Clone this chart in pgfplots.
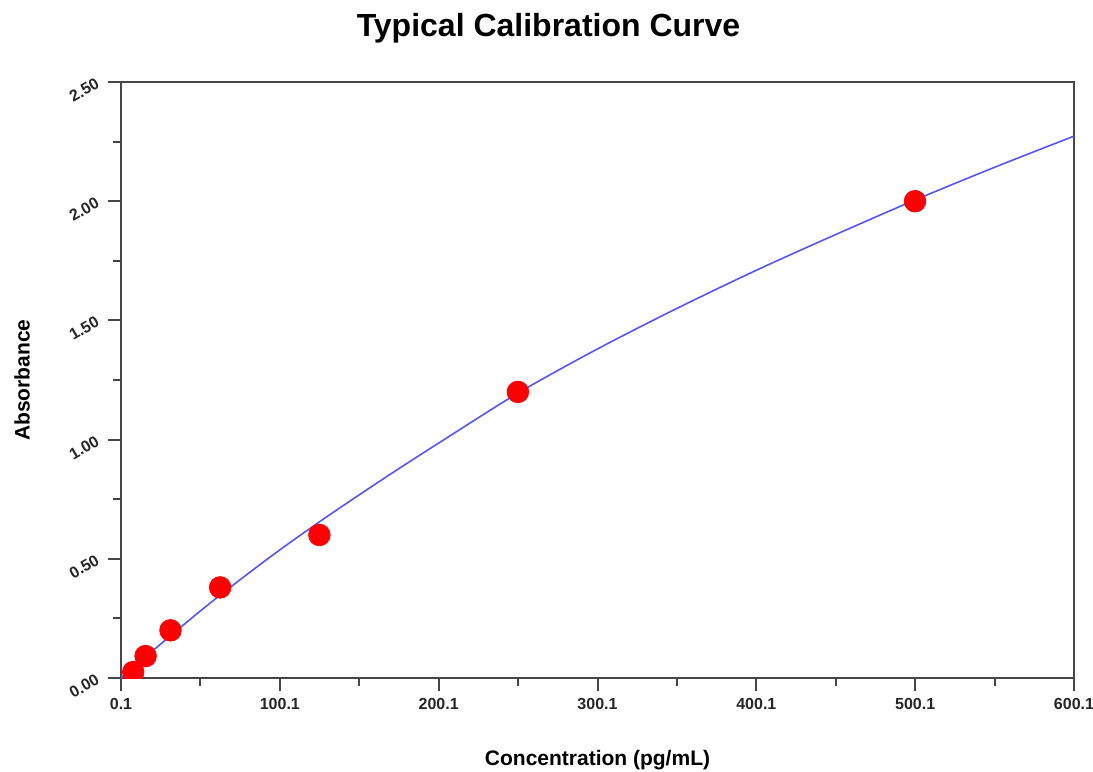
\documentclass[border=0pt]{standalone}
\usepackage{fontspec}
\setmainfont{Liberation Sans}
\usepackage{pgfplots}
\pgfplotsset{compat=1.18}
\usetikzlibrary{calc}

\definecolor{curveblue}{RGB}{85,85,255}
\definecolor{axgray}{RGB}{70,70,70}

\begin{document}
\begin{tikzpicture}
\begin{axis}[
  name=ax,
  scale only axis,
  width=476.5pt, height=298pt,
  xmin=0.1, xmax=600.1,
  ymin=0, ymax=2.5,
  axis line style={axgray, line width=1pt},
  every tick/.style={axgray, line width=1pt},
  tick align=outside,
  xtick pos=left, ytick pos=left,
  major tick length=6.5pt,
  minor tick length=4pt,
  xtick={0.1,100.1,200.1,300.1,400.1,500.1,600.1},
  xticklabels={0.1,100.1,200.1,300.1,400.1,500.1,600.1},
  minor xtick={50.1,150.1,250.1,350.1,450.1,550.1},
  ytick={0,0.5,1,1.5,2,2.5},
  minor ytick={0.25,0.75,1.25,1.75,2.25},
  yticklabel style={/pgf/number format/fixed, /pgf/number format/precision=2,
    /pgf/number format/fixed zerofill, rotate=30, anchor=east,
    yshift=2.5pt, xshift=-1pt},
  /pgf/number format/assume math mode=true,
  ticklabel style={font=\bfseries\fontsize{8}{9}\selectfont, text=black!85},
  scaled ticks=false,
  xlabel={Concentration (pg/mL)},
  ylabel={Absorbance},
  every axis x label/.style={at={(axis description cs:0.5,0)}, yshift=-41pt,
    anchor=center, font=\bfseries\fontsize{10.5}{12}\selectfont},
  every axis y label/.style={at={(axis description cs:0,0.5)}, xshift=-49.5pt,
    rotate=90, anchor=center, font=\bfseries\fontsize{10.5}{12}\selectfont},
  title={Typical Calibration Curve},
  every axis title/.style={at={(axis description cs:0.5,1)}, yshift=27pt,
    xshift=-24.5pt, anchor=center, font=\bfseries\fontsize{16}{19}\selectfont},
  clip marker paths=true,
]
\addplot[curveblue, line width=0.8pt, smooth] coordinates {
(0.1,0.0) (10,0.057) (25,0.142) (50,0.281) (75,0.412) (100,0.537)
(125,0.655) (150,0.768) (175,0.878) (200,0.985) (250,1.195)
(300,1.38) (350,1.55) (400,1.71) (450,1.86) (500,2.005)
(550,2.142) (600.1,2.273)
};
\addplot[only marks, mark=*, mark size=5.4pt, mark options={fill=red, draw=red}] coordinates {
(7.8,0.025) (15.6,0.092) (31.25,0.20) (62.5,0.38) (125,0.60) (250,1.20) (500,2.00)
};
\end{axis}
\pgfresetboundingbox
\path[use as bounding box] ($(ax.south west)+(-60.5pt,-46.5pt)$) rectangle ($(ax.north east)+(9.5pt,41pt)$);
\end{tikzpicture}
\end{document}
